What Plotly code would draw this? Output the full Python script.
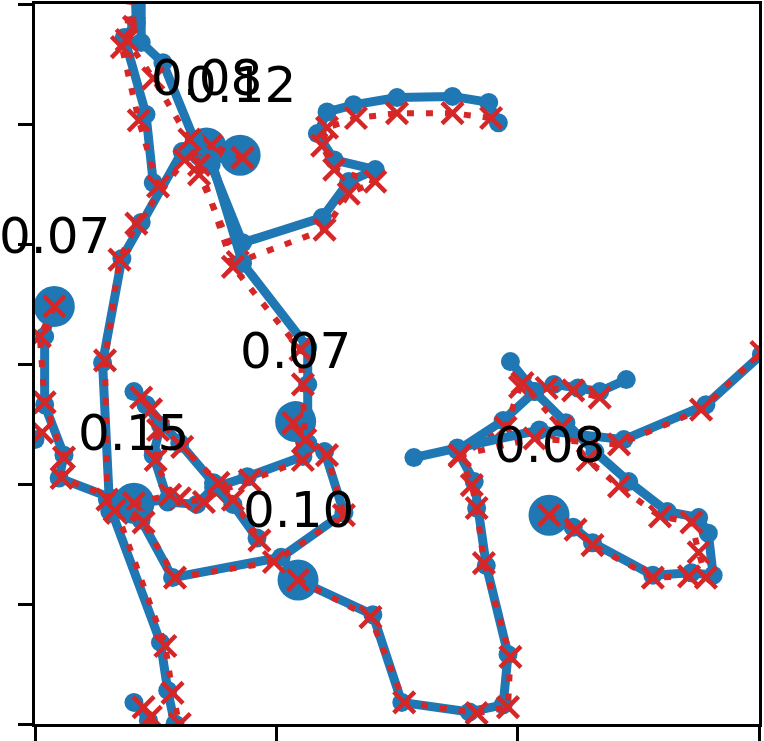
import plotly.graph_objects as go

# ---- data (axis units) ----
labels = ["0.07", "0.08", "0.12", "0.07", "0.15", "0.10", "0.08", None, None, None, None, None, None]

t1_gx = [0.08, 0.04, 0.04, 0.12, 0.10, 0.32, 0.32, 0.52, 0.55, 0.58, 0.61]
t1_gy = [3.48, 3.23, 2.66, 2.24, 2.05, 1.88, 1.76, 0.68, 0.28, 0.00, -0.30]
t1_px = [0.08, 0.02, 0.04, 0.12, 0.11, 0.34, 0.34, 0.54, 0.57, 0.60, 0.63]
t1_py = [3.48, 3.23, 2.68, 2.22, 2.05, 1.87, 1.76, 0.65, 0.26, 0.00, -0.30]

t2_gx = [0.71, 0.73, 0.86, 1.19, 1.30, 1.41, 1.24, 1.17, 1.21, 1.32, 1.50, 1.73, 1.88, 1.92]
t2_gy = [4.80, 4.66, 4.01, 4.22, 4.52, 4.62, 4.70, 4.92, 5.10, 5.16, 5.22, 5.23, 5.18, 5.01]
t2_px = [0.71, 0.68, 0.84, 1.20, 1.30, 1.41, 1.24, 1.19, 1.21, 1.33, 1.50, 1.73, 1.89]
t2_py = [4.78, 4.58, 3.85, 4.12, 4.42, 4.52, 4.62, 4.82, 4.97, 5.05, 5.09, 5.09, 5.05]

t3_gx = [0.85, 0.71, 0.61, 0.44, 0.36, 0.28, 0.30, 0.31]
t3_gy = [4.74, 4.77, 4.77, 4.18, 3.88, 3.01, 1.87, 1.77]
t3_px = [0.86, 0.73, 0.62, 0.42, 0.35, 0.29, 0.30]
t3_py = [4.72, 4.82, 4.70, 4.17, 3.87, 3.03, 1.87]

t4_gx = [1.08, 1.11, 0.88, 0.74, 0.67, 0.55]
t4_gy = [2.52, 2.23, 2.06, 1.97, 1.83, 1.85]
t4_px = [1.07, 1.11, 0.89, 0.75, 0.70, 0.60]
t4_py = [2.51, 2.20, 2.03, 1.93, 1.85, 1.88]

t5_gx = [0.41, 0.55, 0.49, 0.52, 0.46]
t5_gy = [1.84, 1.87, 2.24, 2.49, 2.66]
t5_px = [0.41, 0.56, 0.50, 0.51, 0.48]
t5_py = [1.84, 1.91, 2.20, 2.45, 2.62]

t6_gx = [1.09, 1.40, 1.52, 1.80, 1.94, 1.96, 1.87, 1.83, 1.82, 1.75, 1.94, 2.07, 2.15, 2.25, 2.34, 2.45]
t6_gy = [1.20, 0.91, 0.18, 0.10, 0.16, 0.58, 1.32, 1.80, 2.02, 2.28, 2.53, 2.77, 2.83, 2.80, 2.77, 2.87]
t6_px = [1.09, 1.39, 1.53, 1.83, 1.96, 1.97, 1.86, 1.83, 1.81, 1.76, 1.95, 2.01, 2.12, 2.23, 2.34]
t6_py = [1.20, 0.89, 0.18, 0.09, 0.14, 0.56, 1.34, 1.80, 1.99, 2.23, 2.47, 2.81, 2.80, 2.78, 2.72]

t7_gx = [2.13, 2.23, 2.31, 2.56, 2.72, 2.81, 2.79, 2.75, 2.62, 2.46, 2.32, 2.20, 2.07, 1.97]
t7_gy = [1.74, 1.64, 1.51, 1.24, 1.26, 1.24, 1.59, 1.72, 1.77, 2.02, 2.27, 2.51, 2.77, 3.02]
t7_px = [2.13, 2.24, 2.31, 2.56, 2.71, 2.78, 2.75, 2.72, 2.59, 2.42, 2.29, 2.18, 2.02]
t7_py = [1.74, 1.62, 1.49, 1.22, 1.23, 1.22, 1.43, 1.68, 1.73, 1.98, 2.20, 2.47, 2.84]

t8_gx = [0.41, 0.42, 0.37, 0.46, 0.49]
t8_gy = [6.37, 5.84, 5.72, 5.08, 4.51]
t8_px = [0.39, 0.41, 0.36, 0.43, 0.51]
t8_py = [6.37, 5.81, 5.64, 5.03, 4.48]

t9_gx = [0.44, 0.44, 0.53, 0.66, 0.73, 0.86, 1.13, 1.13, 1.13, 1.20, 1.28, 1.02, 0.57, 0.44, 0.34]
t9_gy = [6.37, 5.68, 5.51, 4.87, 4.70, 3.84, 3.14, 2.83, 2.34, 2.27, 1.76, 1.39, 1.22, 1.70, 1.78]
t9_px = [0.40, 0.38, 0.49, 0.64, 0.68, 0.82, 1.10, 1.11, 1.12, 1.21, 1.28, 0.99, 0.58, 0.45, 0.33]
t9_py = [6.37, 5.70, 5.38, 4.87, 4.66, 3.81, 3.12, 2.83, 2.37, 2.24, 1.74, 1.35, 1.22, 1.68, 1.78]

t10_gx = [0.41, 0.46, 0.60, 0.74, 0.82, 0.92]
t10_gy = [2.77, 2.66, 2.34, 2.01, 1.83, 1.55]
t10_px = [0.44, 0.48, 0.61, 0.76, 0.82, 0.93]
t10_py = [2.72, 2.62, 2.31, 2.01, 1.87, 1.53]

t11_gx = [3.17, 3.01, 2.78, 2.44, 2.09, 1.75, 1.57]
t11_gy = [3.37, 3.08, 2.66, 2.37, 2.45, 2.30, 2.22]
t11_px = [3.17, 3.01, 2.76, 2.42, 2.07, 1.76]
t11_py = [3.40, 3.10, 2.62, 2.33, 2.38, 2.24]

t12_gx = [0.47, 0.47, 0.41]
t12_gy = [-0.47, 0.03, 0.18]
t12_px = [0.49, 0.48, 0.45]
t12_py = [-0.47, 0.06, 0.14]

t13_gx = [-0.27, 0.00]
t13_gy = [2.70, 2.37]
t13_px = [-0.27, 0.03]
t13_py = [2.74, 2.43]

tracks = [
    (t1_gx, t1_gy, t1_px, t1_py), (t2_gx, t2_gy, t2_px, t2_py),
    (t3_gx, t3_gy, t3_px, t3_py), (t4_gx, t4_gy, t4_px, t4_py),
    (t5_gx, t5_gy, t5_px, t5_py), (t6_gx, t6_gy, t6_px, t6_py),
    (t7_gx, t7_gy, t7_px, t7_py), (t8_gx, t8_gy, t8_px, t8_py),
    (t9_gx, t9_gy, t9_px, t9_py), (t10_gx, t10_gy, t10_px, t10_py),
    (t11_gx, t11_gy, t11_px, t11_py), (t12_gx, t12_gy, t12_px, t12_py),
    (t13_gx, t13_gy, t13_px, t13_py),
]

BLUE = "#1f77b4"
RED = "#d62728"
LABEL_DY = 0.585

fig = go.Figure()
annotations = []
for (gx, gy, px, py), lab in zip(tracks, labels):
    sizes = [19] * len(gx)
    if lab is not None:
        sizes[0] = 41
    fig.add_trace(go.Scatter(
        x=gx, y=gy, mode="lines+markers",
        line=dict(color=BLUE, width=9),
        marker=dict(color=BLUE, size=sizes, opacity=1, line=dict(width=0)),
        hoverinfo="skip"))
    fig.add_trace(go.Scatter(
        x=px, y=py, mode="lines+markers",
        line=dict(color=RED, width=6, dash="7px,12px"),
        marker=dict(symbol="x-thin", size=21, color=RED, opacity=1,
                    line=dict(color=RED, width=4.5)),
        hoverinfo="skip"))
    if lab is not None:
        annotations.append(dict(
            x=gx[0], y=gy[0] + LABEL_DY, text=lab, showarrow=False,
            xanchor="center", yanchor="middle",
            font=dict(family="DejaVu Sans", size=50, color="black")))

axis_common = dict(showgrid=False, zeroline=False, showline=True,
                   linecolor="black", linewidth=3, mirror=True,
                   ticks="outside", ticklen=14, tickwidth=3,
                   tickcolor="black", showticklabels=False, dtick=1,
                   automargin=False)

fig.update_layout(
    width=764, height=741,
    margin=dict(l=35, r=5, t=4, b=17),
    plot_bgcolor="white", paper_bgcolor="white",
    showlegend=False,
    xaxis=dict(range=[0, 3], **axis_common),
    yaxis=dict(range=[0, 6], **axis_common),
    annotations=annotations,
)

fig.write_html(
    "out.html",
    config={"displayModeBar": False},
    post_script="document.body.style.margin='0';document.body.style.overflow='hidden';",
)
